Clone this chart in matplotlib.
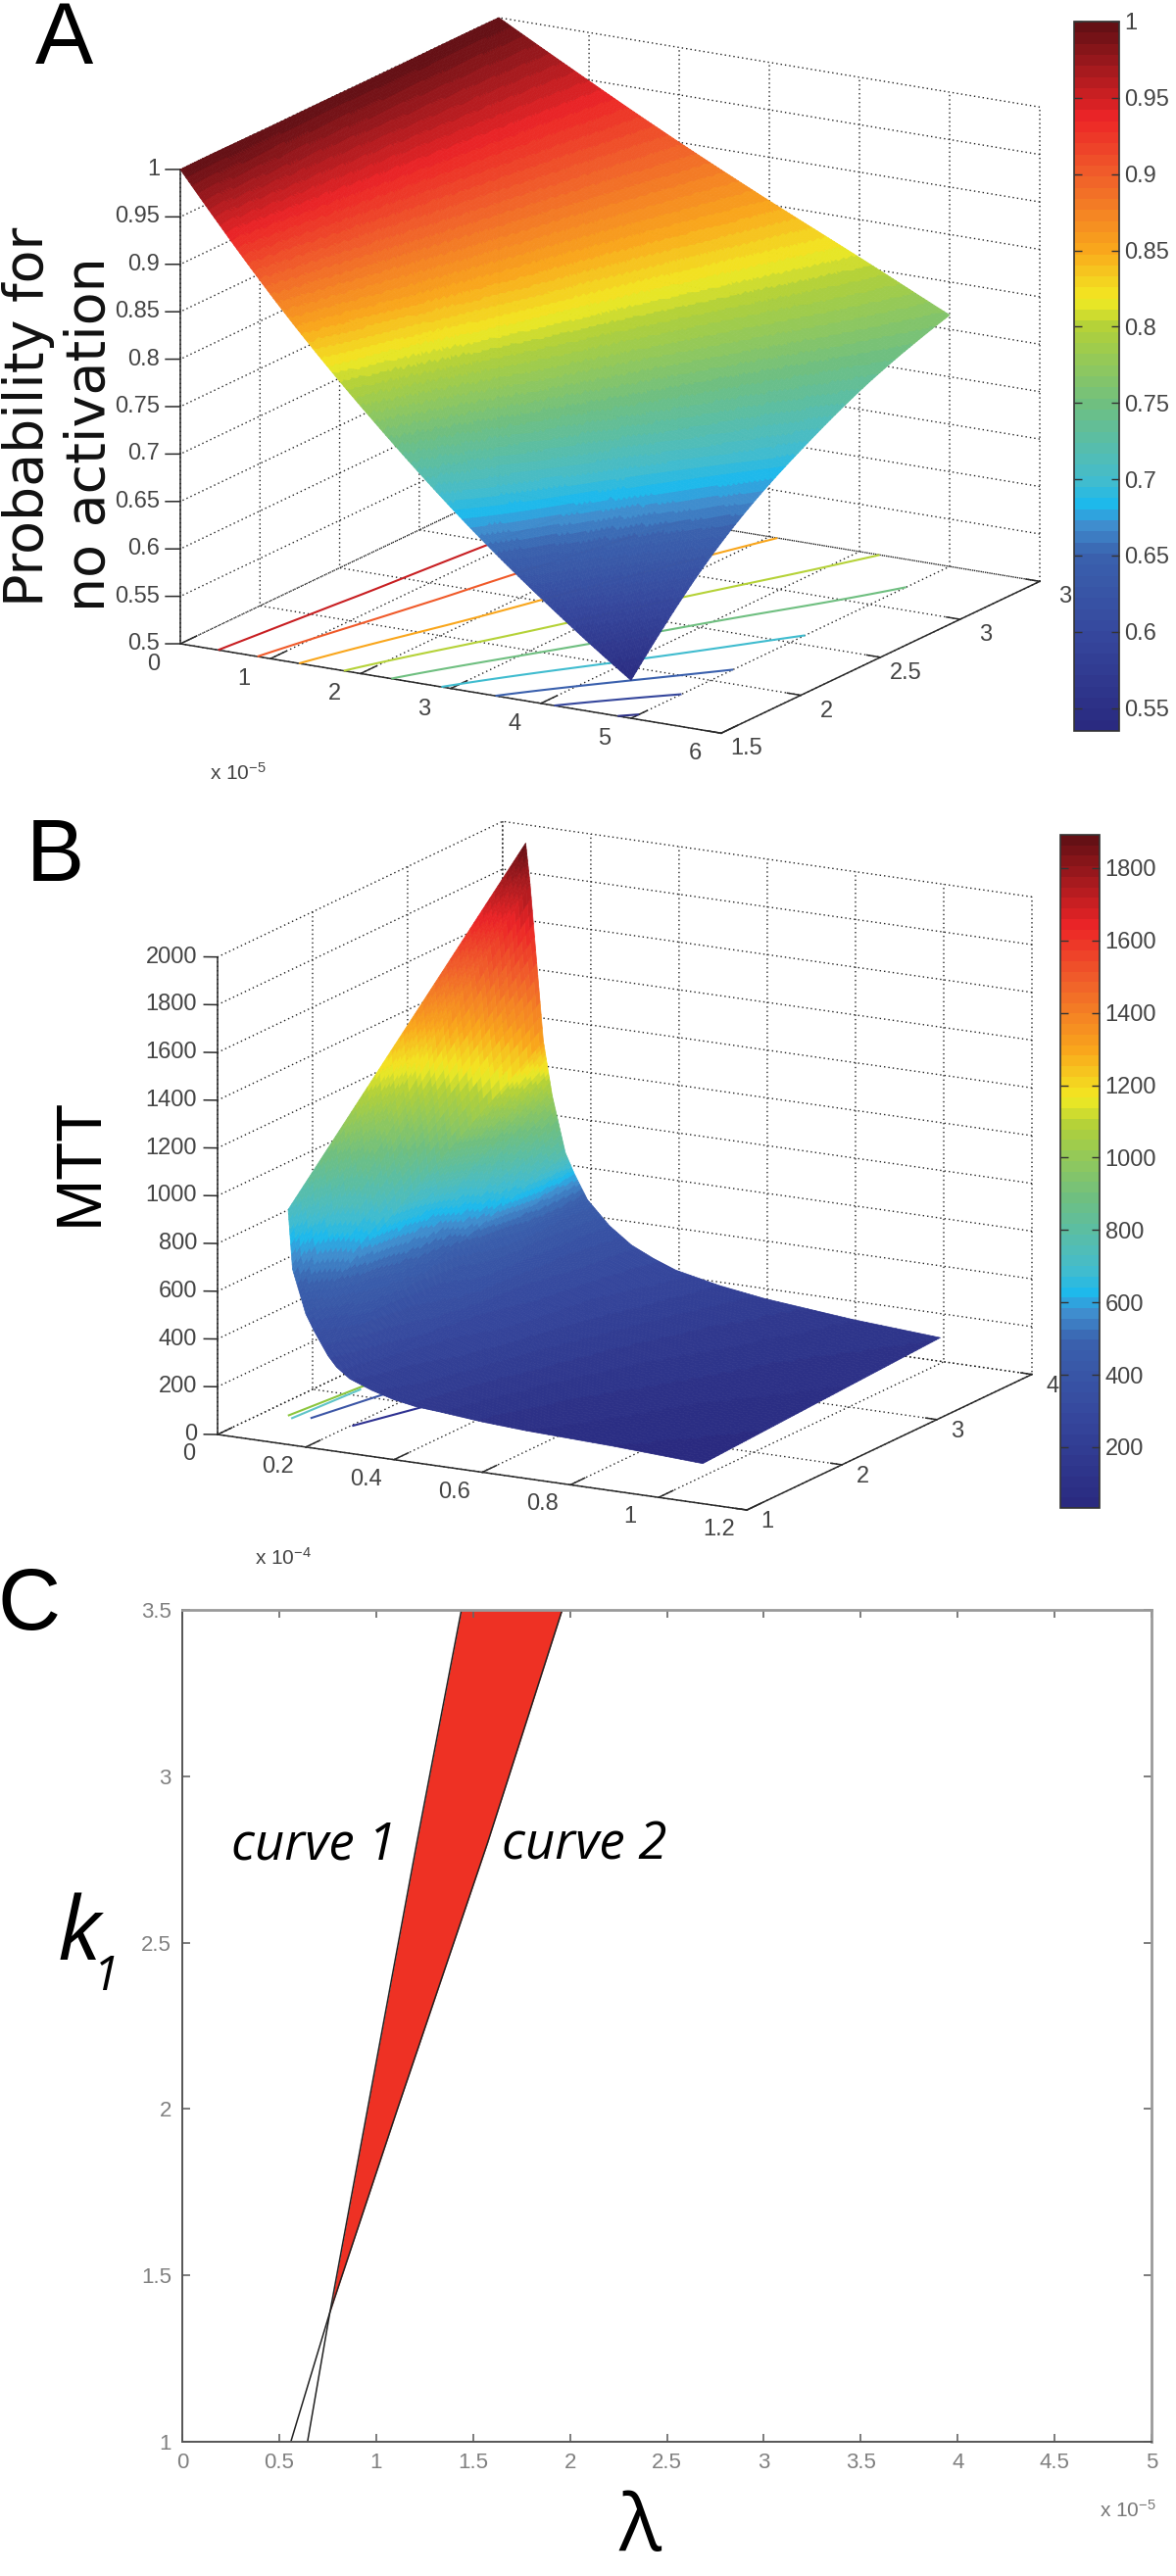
#%% Import libraries
import numpy as np
import matplotlib
matplotlib.use('Agg')
import matplotlib.pyplot as plt
from matplotlib.colors import LinearSegmentedColormap, Normalize
from matplotlib.cm import ScalarMappable
from matplotlib.tri import Triangulation, UniformTriRefiner
from mpl_toolkits.mplot3d import proj3d

#%% Data
# panel A: probability for no activation
lam_a = [0, 1, 2, 3, 4, 5]
k_a = [1.5, 2, 2.5, 3, 3.5]
prob_a = [[1, 0.884, 0.782, 0.691, 0.611, 0.54],
          [1, 0.912, 0.832, 0.758, 0.691, 0.630],
          [1, 0.929, 0.863, 0.801, 0.744, 0.691],
          [1, 0.940, 0.884, 0.831, 0.782, 0.735],
          [1, 0.949, 0.900, 0.854, 0.810, 0.765]]
levels_a = [0.55, 0.6, 0.65, 0.7, 0.75, 0.8, 0.85, 0.9, 0.95]
xticks_a = [0, 1, 2, 3, 4, 5, 6]
yticks_a = [1.5, 2, 2.5, 3, 3.5]
yticklabels_a = ['1.5', '2', '2.5', '3', '3']
zticks_a = [0.5, 0.55, 0.6, 0.65, 0.7, 0.75, 0.8, 0.85, 0.9, 0.95, 1]
zticklabels_a = ['0.5', '0.55', '0.6', '0.65', '0.7', '0.75', '0.8', '0.85', '0.9', '0.95', '1']
cticks_a = [0.55, 0.6, 0.65, 0.7, 0.75, 0.8, 0.85, 0.9, 0.95, 1]
cticklabels_a = ['0.55', '0.6', '0.65', '0.7', '0.75', '0.8', '0.85', '0.9', '0.95', '1']

# panel B: MTT, height and colour of the surface are read separately
lam_b = [0.16, 0.17, 0.2, 0.22, 0.25, 0.27, 0.3, 0.35, 0.4, 0.45, 0.5, 0.6, 0.7, 0.9, 1.1]
k_b = [1, 2.25, 3.5]
mtt_b = [[984, 737, 558, 488, 397, 353, 312, 277, 251, 235, 228, 211, 200, 187, 168],
         [1515, 1306, 893, 746, 585, 522, 450, 385, 338, 308, 287, 260, 240, 216, 195],
         [2046, 1876, 1228, 1005, 772, 691, 589, 493, 425, 382, 347, 308, 281, 246, 222]]
colour_b = [[720, 530, 400, 350, 300, 275, 240, 210, 190, 170, 150, 115, 90, 60, 40],
            [1305, 1130, 780, 620, 460, 400, 365, 300, 272, 240, 215, 175, 145, 105, 80],
            [1890, 1760, 1300, 1020, 770, 620, 460, 380, 330, 300, 280, 235, 200, 150, 120]]
floor_lines_b = [([0.054, 0.078], [1.50, 2.22], '#8cc63e'),
                 ([0.070, 0.084], [1.46, 2.11], '#5fc4c8'),
                 ([0.103, 0.142], [1.51, 2.08], '#3c56a6'),
                 ([0.204, 0.255], [1.48, 1.95], '#2e3191')]
xticks_b = [0, 0.2, 0.4, 0.6, 0.8, 1, 1.2]
xticklabels_b = ['0', '0.2', '0.4', '0.6', '0.8', '1', '1.2']
yticks_b = [1, 2, 3, 4]
zticks_b = [0, 200, 400, 600, 800, 1000, 1200, 1400, 1600, 1800, 2000]
cticks_b = [200, 400, 600, 800, 1000, 1200, 1400, 1600, 1800]

# panel C: the two curves bounding the red region
k_c = [1, 1.39, 2, 2.8, 3.5]
curve1_c = [0.56, 0.762, 0.956, 1.21, 1.44]
curve2_c = [0.646, 0.762, 1.11, 1.575, 1.96]
xticks_c = [0, 0.5, 1, 1.5, 2, 2.5, 3, 3.5, 4, 4.5, 5]
xticklabels_c = ['0', '0.5', '1', '1.5', '2', '2.5', '3', '3.5', '4', '4.5', '5']
yticks_c = [1, 1.5, 2, 2.5, 3, 3.5]
yticklabels_c = ['1', '1.5', '2', '2.5', '3', '3.5']

# jet as it looks after the colour conversion of the original
jet_nodes = [0.0, 0.135, 0.246, 0.29, 0.316, 0.354, 0.46, 0.568, 0.61, 0.68, 0.785, 0.87, 1.0]
jet_colours = ['#2a2a80', '#36489e', '#3a62ae', '#3f92d2', '#1cb9ec', '#45bccb', '#6fbf80',
               '#b0d03a', '#f2ea22', '#f9a81c', '#f0602a', '#ec2427', '#651015']
jet64 = LinearSegmentedColormap.from_list('jet_print', list(zip(jet_nodes, jet_colours)), N=64)

#%% Figure set up
W, H = 1200, 2629
TICK_FONT = ['Liberation Sans', 'DejaVu Sans']
TICK_COLOUR = '#444444'
plt.rcParams['grid.linestyle'] = (0, (1, 2.2))
plt.rcParams['grid.color'] = '#222222'
plt.rcParams['grid.linewidth'] = 1.0
plt.rcParams['mathtext.default'] = 'regular'
plt.rcParams['font.family'] = ['Liberation Sans', 'DejaVu Sans']

fig = plt.figure(figsize=(W / 100, H / 100), dpi=100, facecolor='white')


def to_display(ax, x, y, z):
    xp, yp, _ = proj3d.proj_transform(x, y, z, ax.get_proj())
    return ax.transData.transform((xp, yp))


def make_box(elev, azim, box, xlim, ylim, zlim, xticks, yticks, zticks, origin_px, right_px):
    # orthographic 3D box, moved so its front corner lands on origin_px
    ax = fig.add_axes([0, 0, 900 / W, 900 / H], projection='3d', proj_type='ortho', computed_zorder=False)
    ax.set_facecolor('none')
    ax.view_init(elev=elev, azim=azim)
    ax.set_box_aspect(box, zoom=0.8)
    ax.set_xlim(*xlim)
    ax.set_ylim(*ylim)
    ax.set_zlim(*zlim)
    ax.set_xticks(xticks)
    ax.set_yticks(yticks)
    ax.set_zticks(zticks)
    ax.set_xticklabels([])
    ax.set_yticklabels([])
    ax.set_zticklabels([])
    for axis in (ax.xaxis, ax.yaxis, ax.zaxis):
        axis.set_pane_color((1, 1, 1, 0))
        axis.pane.set_edgecolor('none')
        axis.line.set_color('none')
    ax.tick_params(axis='both', colors='none')
    ax.tick_params(axis='z', colors='none')

    # scale then shift
    p0 = to_display(ax, xlim[0], ylim[0], zlim[0])
    p1 = to_display(ax, xlim[1], ylim[1], zlim[0])
    side = 900 * (right_px - origin_px[0]) / (p1[0] - p0[0])
    ax.set_position([0, 0, side / W, side / H])
    p0 = to_display(ax, xlim[0], ylim[0], zlim[0])
    left = origin_px[0] - p0[0]
    bottom = (H - origin_px[1]) - p0[1]
    ax.set_position([left / W, bottom / H, side / W, side / H])
    return ax


def label3d(ax, x, y, z, text, dx, dy, ha='center', size=17, **kw):
    xp, yp, _ = proj3d.proj_transform(x, y, z, ax.get_proj())
    ax.annotate(text, xy=(xp, yp), xycoords='data', xytext=(dx, dy), textcoords='offset pixels',
                ha=ha, va='center', annotation_clip=False, fontsize=size, family=TICK_FONT,
                color=TICK_COLOUR, **kw)


def draw_axes_lines(ax, xlim, ylim, zlim, xticks, yticks, zticks, xlen, ylen, ztick_dx, ztick_dy):
    line = dict(color='#2a2a2a', lw=1.1, zorder=1)
    ax.plot(xlim, [ylim[0], ylim[0]], [zlim[0], zlim[0]], **line)
    ax.plot([xlim[1], xlim[1]], ylim, [zlim[0], zlim[0]], **line)
    ax.plot([xlim[0], xlim[0]], [ylim[0], ylim[0]], zlim, **line)
    for t in xticks:
        ax.plot([t, t], [ylim[0], ylim[0] + xlen], [zlim[0], zlim[0]], **line)
    for t in yticks:
        ax.plot([xlim[1], xlim[1] - ylen], [t, t], [zlim[0], zlim[0]], **line)
    for t in zticks:
        ax.plot([xlim[0], xlim[0] - ztick_dx], [ylim[0], ylim[0] - ztick_dy], [t, t], **line)


def shading_grid(table, nx, ny):
    # same job as MATLAB's shading interp: subdivide each cell of the read grid
    table = np.asarray(table, dtype=float)
    rows, cols = table.shape
    ix = np.linspace(0, cols - 1, (cols - 1) * nx + 1)
    iy = np.linspace(0, rows - 1, (rows - 1) * ny + 1)
    by_x = np.array([np.interp(ix, np.arange(cols), row) for row in table])
    return np.array([np.interp(iy, np.arange(rows), col) for col in by_x.T]).T


def add_colourbar(norm, rect_px, ticks, labels):
    left, top, right, bottom = rect_px
    cax = fig.add_axes([left / W, 1 - bottom / H, (right - left) / W, (bottom - top) / H])
    cb = fig.colorbar(ScalarMappable(norm=norm, cmap=jet64), cax=cax)
    cb.set_ticks(ticks)
    cb.set_ticklabels(labels)
    cb.outline.set_edgecolor('#333333')
    cb.outline.set_linewidth(1.2)
    cax.tick_params(axis='y', direction='in', length=6, width=1, left=True, right=True, pad=4,
                    labelsize=17, labelcolor=TICK_COLOUR, color='#333333')
    for lab in cax.get_yticklabels():
        lab.set_family(TICK_FONT)
    return cb


#%% Panel A
xlim_a, ylim_a, zlim_a = (0, 6), (1.5, 3.5), (0.5, 1)
ax_a = make_box(16.3, -59.5, (1.27, 1.27, 1.0), xlim_a, ylim_a, zlim_a, xticks_a, yticks_a, zticks_a,
                (184, 657), 1061)
norm_a = Normalize(0.535, 1.0)
gx_a, gy_a = np.meshgrid(lam_a, k_a)
tri_a = Triangulation(gx_a.ravel(), gy_a.ravel())
tri_f, prob_f = UniformTriRefiner(tri_a).refine_field(np.ravel(prob_a), subdiv=5)
ax_a.tricontour(tri_f, prob_f, levels=levels_a, zdir='z', offset=0.5, cmap=jet64, norm=norm_a,
                linewidths=1.5, zorder=2)
surf_a = ax_a.plot_trisurf(tri_f, prob_f, cmap=jet64, norm=norm_a, linewidth=0, zorder=3)
rgba_a = jet64(norm_a(prob_f[tri_f.triangles].mean(axis=1)))
surf_a.set_array(None)
surf_a.set_facecolor(rgba_a)
surf_a.set_edgecolor(rgba_a)
surf_a.set_linewidth(0.5)
draw_axes_lines(ax_a, xlim_a, ylim_a, zlim_a, xticks_a, yticks_a, zticks_a, 0.1, 0.15, 0.12, 0.024)
for t in xticks_a:
    label3d(ax_a, t, 1.5, 0.5, str(t), -27, -21)
for t, lab in zip(yticks_a, yticklabels_a):
    label3d(ax_a, 6, t, 0.5, lab, 26, -16)
for t, lab in zip(zticks_a, zticklabels_a):
    label3d(ax_a, 0, 1.5, t, lab, -21, 0, ha='right')
add_colourbar(norm_a, (1096, 22, 1142, 746), cticks_a, cticklabels_a)
fig.text(214 / W, 1 - 789 / H, 'x 10$^{-5}$', fontsize=15, family=TICK_FONT, color=TICK_COLOUR, va='center')
fig.text(29 / W, 1 - 425 / H, 'Probability for', rotation=90, fontsize=40, family='DejaVu Sans',
         ha='center', va='center', color='#111111')
fig.text(92 / W, 1 - 443 / H, 'no activation', rotation=90, fontsize=40, family='DejaVu Sans',
         ha='center', va='center', color='#111111')
fig.text(65 / W, 1 - 42 / H, 'A', fontsize=64, ha='center', va='center', color='black')

#%% Panel B
xlim_b, ylim_b, zlim_b = (0, 1.2), (1, 4), (0, 2000)
ax_b = make_box(15.1, -61.3, (1.22, 1.2, 1.0), xlim_b, ylim_b, zlim_b, xticks_b, yticks_b, zticks_b,
                (222, 1464), 1053)
norm_b = Normalize(32, 1892)
lam_grid, k_grid = np.meshgrid(lam_b, k_b)
x_f = shading_grid(lam_grid, 12, 30)
y_f = shading_grid(k_grid, 12, 30)
mtt_f = shading_grid(mtt_b, 12, 30)
colour_f = shading_grid(colour_b, 12, 30)
rgba_b = jet64(norm_b(colour_f))
for xs, ys, col in floor_lines_b:
    ax_b.plot(xs, ys, [0, 0], color=col, lw=1.5, zorder=2)
surf_b = ax_b.plot_surface(x_f, y_f, mtt_f, facecolors=rgba_b, rstride=1, cstride=1,
                           shade=False, linewidth=0.5, zorder=3)
surf_b.set_edgecolor(rgba_b[:-1, :-1].reshape(-1, 4))
draw_axes_lines(ax_b, xlim_b, ylim_b, zlim_b, xticks_b, yticks_b, zticks_b, 0.15, 0.025, 0.024, 0.03)
for t, lab in zip(xticks_b, xticklabels_b):
    label3d(ax_b, t, 1, 0, lab, -29, -20)
for t in yticks_b:
    label3d(ax_b, 1.2, t, 0, str(t), 21, -12)
for t in zticks_b:
    label3d(ax_b, 0, 1, t, str(t), -21, 0, ha='right')
add_colourbar(norm_b, (1082, 852, 1122, 1539), cticks_b, [str(t) for t in cticks_b])
fig.text(260 / W, 1 - 1590 / H, 'x 10$^{-4}$', fontsize=15, family=TICK_FONT, color=TICK_COLOUR, va='center')
fig.text(82 / W, 1 - 1185 / H, 'MTT', rotation=90, fontsize=46, ha='center', va='center', color='black')
fig.text(56 / W, 1 - 876 / H, 'B', fontsize=64, ha='center', va='center', color='black')

#%% Panel C
ax_c = fig.add_axes([186 / W, 1 - 2492 / H, (1175 - 186) / W, (2492 - 1643) / H])
red_k = [k for k in k_c if k >= 1.39]
red_1 = curve1_c[1:]
red_2 = curve2_c[1:]
ax_c.fill_betweenx(red_k, red_1, red_2, color='#ee3124', linewidth=0)
ax_c.plot(curve1_c, k_c, color='#222222', lw=1.1)
ax_c.plot(curve2_c, k_c, color='#222222', lw=1.1)
ax_c.set_xlim(0, 5)
ax_c.set_ylim(1, 3.5)
ax_c.set_xticks(xticks_c)
ax_c.set_xticklabels(xticklabels_c)
ax_c.set_yticks(yticks_c)
ax_c.set_yticklabels(yticklabels_c)
ax_c.tick_params(direction='in', length=6, width=1.2, top=True, right=True, color='#666666',
                 labelsize=16, labelcolor='#808080', pad=8)
for lab in ax_c.get_xticklabels() + ax_c.get_yticklabels():
    lab.set_family(TICK_FONT)
for side, spine in ax_c.spines.items():
    spine.set_color('#9a9a9a' if side in ('top', 'right') else '#555555')
    spine.set_linewidth(2.0 if side in ('top', 'right') else 1.4)
fig.text(1122 / W, 1 - 2562 / H, 'x 10$^{-5}$', fontsize=15, family=TICK_FONT, color='#777777', va='center')
fig.text(320 / W, 1 - 1884 / H, 'curve 1', fontsize=38, style='italic', family='Open Sans', ha='center', va='center', color='black')
fig.text(596 / W, 1 - 1884 / H, 'curve 2', fontsize=38, style='italic', family='Open Sans', ha='center', va='center', color='black')
fig.text(81 / W, 1 - 1977 / H, 'k', fontsize=65, style='italic', family='Open Sans', ha='center', va='center', color='black')
fig.text(108 / W, 1 - 2018 / H, '1', fontsize=35, style='italic', family='Open Sans', ha='center', va='center', color='black')
fig.text(653 / W, 1 - 2582 / H, 'λ', fontsize=58, family='Open Sans', ha='center', va='center', color='black')
fig.text(30 / W, 1 - 1640 / H, 'C', fontsize=64, ha='center', va='center', color='black')

fig.savefig('out.png', dpi=100)
